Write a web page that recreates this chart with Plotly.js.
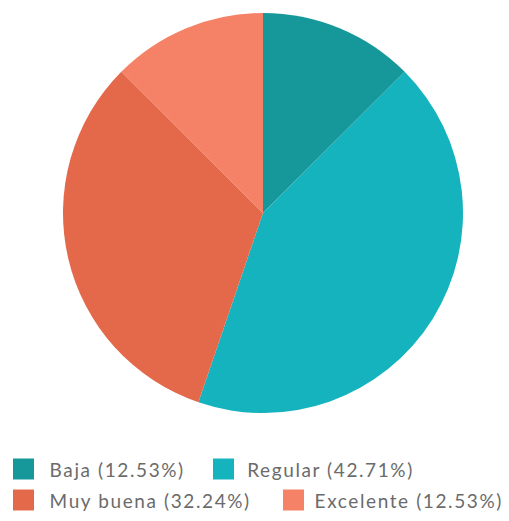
<!DOCTYPE html>
<html><head><meta charset="utf-8">
<script src="https://cdn.plot.ly/plotly-3.0.1.min.js"></script>
<style>body{margin:0;background:#fff}#c{width:509px;height:521px}
#c text.annotation-text{letter-spacing:1.6px}</style>
</head><body><div id="c"></div>
<script>
const labels = ["Baja", "Regular", "Muy buena", "Excelente"];
const values = [12.53, 42.71, 32.24, 12.53];
const colors = ["#16989a", "#14b3bd", "#e4694a", "#f58266"];
const legendNames = labels.map((l, i) => l + " (" + values[i].toFixed(2) + "%)");

// custom legend layout (pixels): marker left x, text left x, row center y
const W = 509, H = 521;
const LS = 1.6;
const legMarkerX = [13, 213, 13, 283];
const legTextX = [48, 245, 48, 313];
const legRowY = [469, 469, 500, 500];
const mk = 21;

const shapes = legendNames.map((n, i) => ({
  type: "rect", xref: "paper", yref: "paper",
  x0: legMarkerX[i] / W, x1: (legMarkerX[i] + mk) / W,
  y0: 1 - (legRowY[i] - mk / 2) / H, y1: 1 - (legRowY[i] + mk / 2) / H,
  fillcolor: colors[i], line: {width: 0}
}));
const annotations = legendNames.map((n, i) => ({
  text: n, xref: "paper", yref: "paper", showarrow: false,
  x: (legTextX[i] + n.length * LS / 2) / W, y: 1 - legRowY[i] / H,
  xanchor: "left", yanchor: "middle",
  font: {family: "Lato", size: 19, color: "#6b6b6b"}
}));

Plotly.newPlot("c", [{
  type: "pie",
  labels: legendNames,
  values: values,
  sort: false,
  direction: "clockwise",
  rotation: 0,
  textinfo: "none",
  hoverinfo: "none",
  marker: {colors: colors, line: {width: 0}},
  domain: {x: [63/509, 463/509], y: [1 - 413/521, 1 - 13/521]}
}], {
  width: W, height: H,
  margin: {l: 0, r: 0, t: 0, b: 0},
  paper_bgcolor: "#fff",
  showlegend: false,
  shapes: shapes,
  annotations: annotations
}, {staticPlot: true});
</script></body></html>
